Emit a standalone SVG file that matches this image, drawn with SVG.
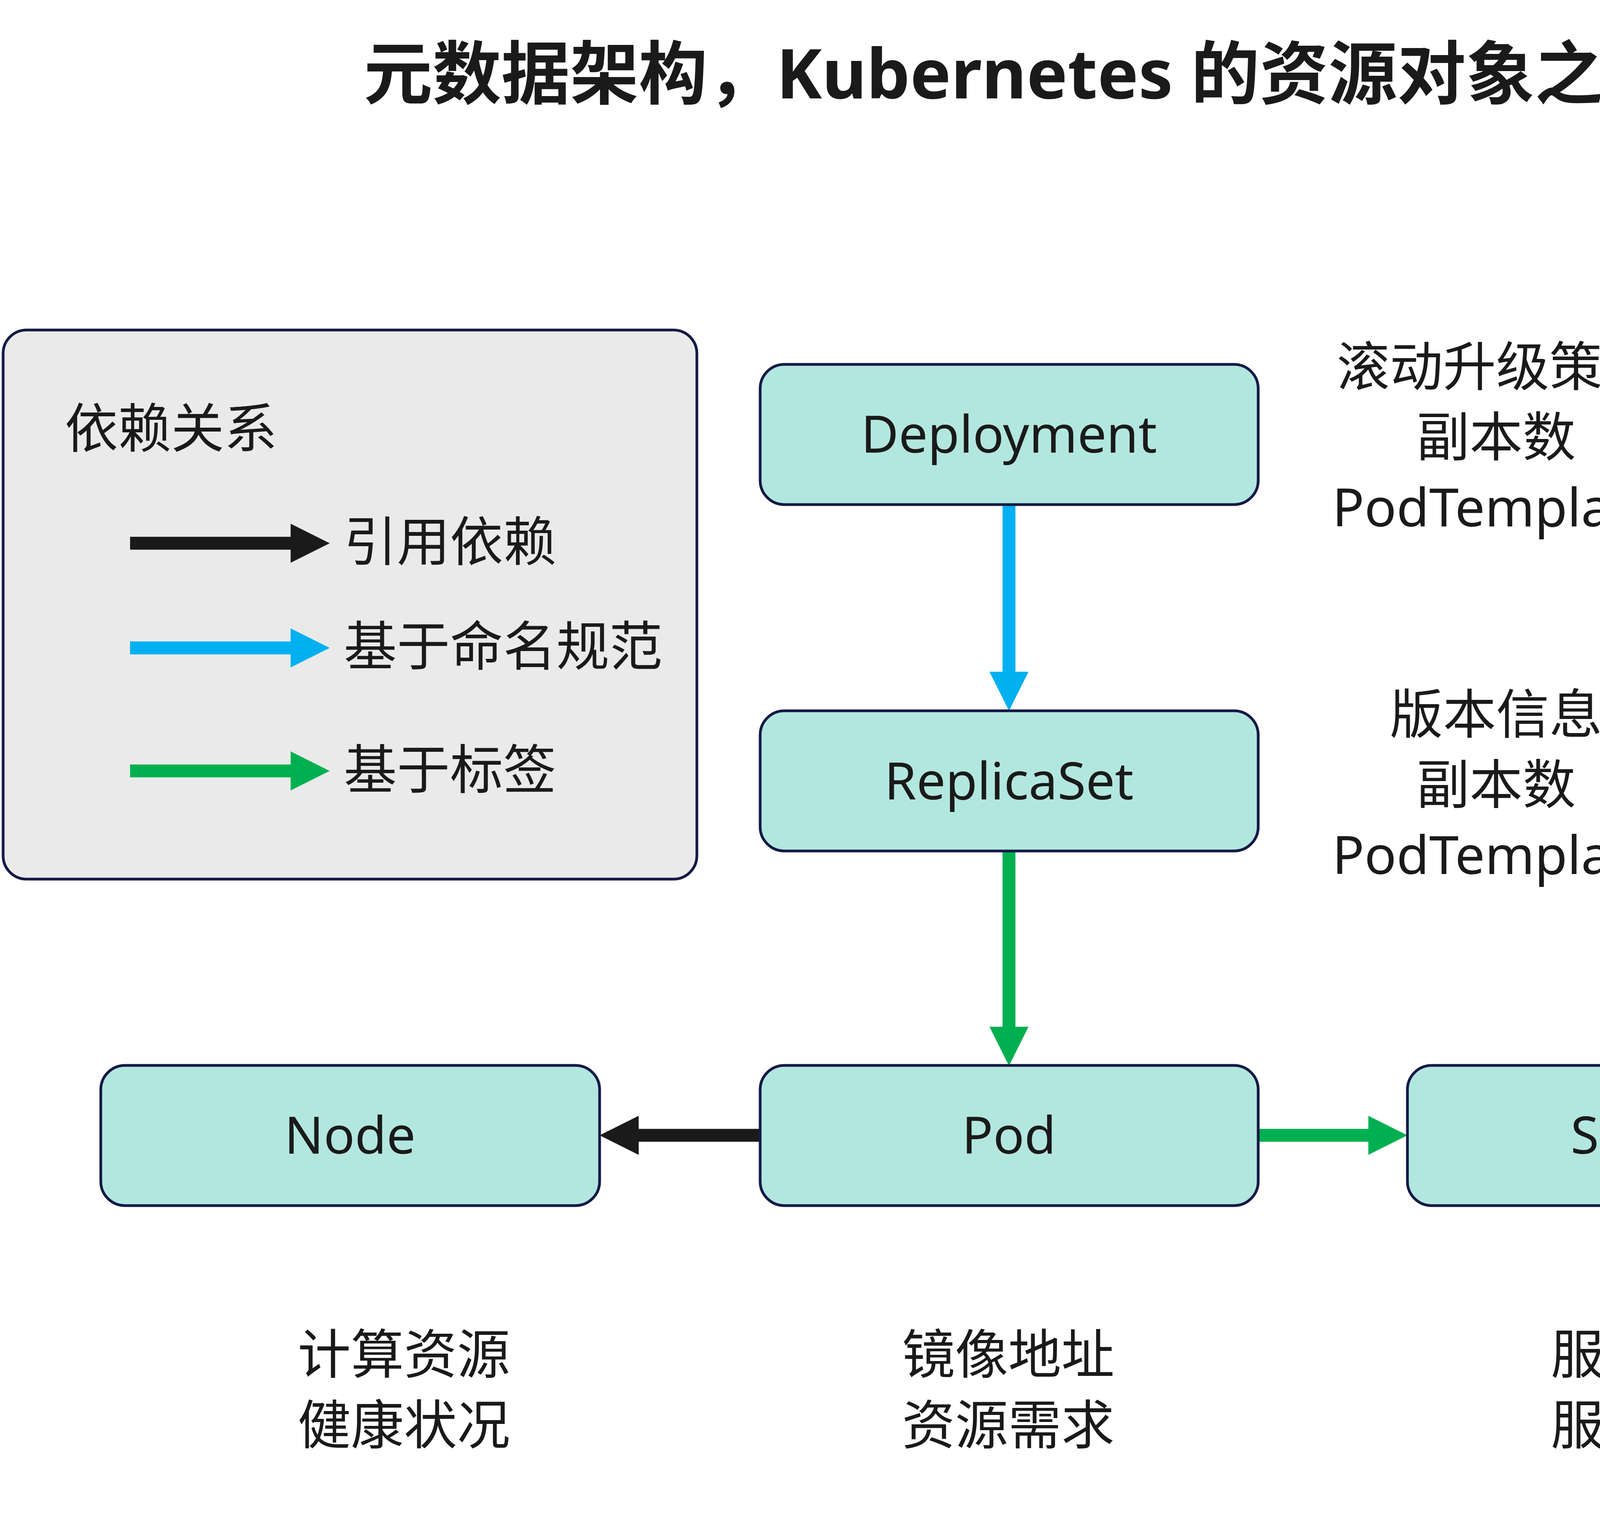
<svg xmlns="http://www.w3.org/2000/svg" width="6575" height="3892" viewBox="0 0 6575 3892">
  <style>
    text { font-family: "Noto Sans", "Noto Sans CJK SC", sans-serif; fill: #1a1a1a; }
    .title { font-size: 176px; font-weight: bold; text-anchor: middle; }
    .lbl { font-size: 132px; text-anchor: middle; }
    .note { font-size: 136px; text-anchor: middle; }
    .leg { font-size: 136px; }
    .node { fill: #b2e7df; stroke: #141a45; stroke-width: 7; }
    .legbox { fill: #eaeaea; stroke: #141a45; stroke-width: 7; }
    .k { stroke: #1a1a1a; stroke-width: 33; fill: none; }
    .b { stroke: #00b0f0; stroke-width: 33; fill: none; }
    .g { stroke: #00b050; stroke-width: 33; fill: none; }
  </style>
  <defs>
    <marker id="ak" markerUnits="userSpaceOnUse" markerWidth="100" markerHeight="100" refX="0" refY="50" orient="auto" overflow="visible">
      <path d="M0,0 L100,50 L0,100 Z" fill="#1a1a1a"/>
    </marker>
    <marker id="ab" markerUnits="userSpaceOnUse" markerWidth="100" markerHeight="100" refX="0" refY="50" orient="auto" overflow="visible">
      <path d="M0,0 L100,50 L0,100 Z" fill="#00b0f0"/>
    </marker>
    <marker id="ag" markerUnits="userSpaceOnUse" markerWidth="100" markerHeight="100" refX="0" refY="50" orient="auto" overflow="visible">
      <path d="M0,0 L100,50 L0,100 Z" fill="#00b050"/>
    </marker>
  </defs>

  <rect width="6575" height="3892" fill="#ffffff"/>

  <text class="title" x="3046" y="252">元数据架构，Kubernetes 的资源对象之间的组合关系</text>

  <g id="legend">
    <rect class="legbox" x="8" y="845" width="1776" height="1406" rx="60" ry="60"/>
    <text class="leg" x="166" y="1146">依赖关系</text>
    <line class="k" x1="333" y1="1391" x2="744" y2="1391" marker-end="url(#ak)"/>
    <text class="leg" x="880" y="1436">引用依赖</text>
    <line class="b" x1="333" y1="1659" x2="744" y2="1659" marker-end="url(#ab)"/>
    <text class="leg" x="880" y="1704">基于命名规范</text>
    <line class="g" x1="333" y1="1974" x2="744" y2="1974" marker-end="url(#ag)"/>
    <text class="leg" x="880" y="2020">基于标签</text>
  </g>

  <g id="connectors">
    <line class="b" x1="2583" y1="1292" x2="2583" y2="1720" marker-end="url(#ab)"/>
    <line class="g" x1="2583" y1="2179" x2="2583" y2="2629" marker-end="url(#ag)"/>
    <line class="k" x1="1947" y1="2907" x2="1635" y2="2907" marker-end="url(#ak)"/>
    <line class="g" x1="3221" y1="2907" x2="3503" y2="2907" marker-end="url(#ag)"/>
    <line class="k" x1="5290" y1="2907" x2="4979" y2="2907" marker-end="url(#ak)"/>
  </g>

  <g id="deployment">
    <rect class="node" x="1946" y="933" width="1275" height="359" rx="62" ry="62"/>
    <text class="lbl" x="2583" y="1159">Deployment</text>
  </g>
  <g id="replicaset">
    <rect class="node" x="1946" y="1820" width="1275" height="359" rx="62" ry="62"/>
    <text class="lbl" x="2583" y="2047">ReplicaSet</text>
  </g>
  <g id="pod">
    <rect class="node" x="1946" y="2728" width="1275" height="359" rx="62" ry="62"/>
    <text class="lbl" x="2583" y="2954">Pod</text>
  </g>
  <g id="node">
    <rect class="node" x="258" y="2728" width="1277" height="359" rx="62" ry="62"/>
    <text class="lbl" x="896" y="2954">Node</text>
  </g>
  <g id="service">
    <rect class="node" x="3603" y="2728" width="1276" height="359" rx="62" ry="62"/>
    <text class="lbl" x="4241" y="2954">Service</text>
  </g>
  <g id="ingress">
    <rect class="node" x="5290" y="2728" width="1274" height="359" rx="62" ry="62"/>
    <text class="lbl" x="5927" y="2954">Ingress</text>
  </g>

  <g id="notes">
    <text class="note" x="3830" y="988">滚动升级策略</text>
    <text class="note" x="3830" y="1168">副本数</text>
    <text class="note" x="3830" y="1348">PodTemplate</text>

    <text class="note" x="3830" y="1878">版本信息</text>
    <text class="note" x="3830" y="2058">副本数</text>
    <text class="note" x="3830" y="2238">PodTemplate</text>

    <text class="note" x="1034" y="3517">计算资源</text>
    <text class="note" x="1034" y="3698">健康状况</text>

    <text class="note" x="2581" y="3517">镜像地址</text>
    <text class="note" x="2581" y="3698">资源需求</text>

    <text class="note" x="4242" y="3517">服务协议</text>
    <text class="note" x="4242" y="3698">服务端口</text>

    <text class="note" x="5927" y="3420">域名</text>
    <text class="note" x="5927" y="3602">访问URL</text>
    <text class="note" x="5927" y="3784">目标服务</text>
  </g>
</svg>
